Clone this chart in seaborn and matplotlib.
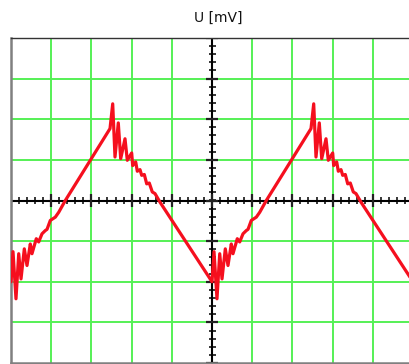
import numpy as np
import matplotlib
matplotlib.use("Agg")
import matplotlib.pyplot as plt
import seaborn as sns

# Waveform vertices (x, y in screen divisions)
t_div = [0.000, 0.050, 0.124, 0.192, 0.249, 0.331, 0.398, 0.480, 0.522, 0.629,
         0.689, 0.771, 0.853, 0.896, 0.978, 1.102, 1.187, 1.351, 2.463, 2.530,
         2.587, 2.669, 2.729, 2.836, 2.893, 3.002, 3.027, 3.102, 3.142, 3.209,
         3.251, 3.316, 3.376, 3.440, 3.515, 3.582, 3.706,
         5.000, 5.050, 5.124, 5.192, 5.249, 5.331, 5.398, 5.480, 5.522, 5.629,
         5.689, 5.771, 5.853, 5.896, 5.978, 6.102, 6.187, 6.351, 7.463, 7.530,
         7.587, 7.669, 7.729, 7.836, 7.893, 8.002, 8.027, 8.102, 8.142, 8.209,
         8.251, 8.316, 8.376, 8.440, 8.515, 8.582, 8.706, 10.000]
u_div = [-2.00, -1.26, -2.42, -1.31, -1.93, -1.19, -1.60, -1.07, -1.31, -0.94,
         -1.02, -0.82, -0.74, -0.71, -0.49, -0.41, -0.29, 0.00, 1.77, 2.38,
         1.07, 1.91, 1.03, 1.52, 0.99, 1.17, 0.86, 0.95, 0.72, 0.76,
         0.62, 0.64, 0.41, 0.43, 0.21, 0.17, -0.04,
         -2.00, -1.26, -2.42, -1.31, -1.93, -1.19, -1.60, -1.07, -1.31, -0.94,
         -1.02, -0.82, -0.74, -0.71, -0.49, -0.41, -0.29, 0.00, 1.77, 2.38,
         1.07, 1.91, 1.03, 1.52, 0.99, 1.17, 0.86, 0.95, 0.72, 0.76,
         0.62, 0.64, 0.41, 0.43, 0.21, 0.17, -0.04, -2.00]
title_text = "U [mV]"

sns.set_style("white")
plt.rcParams['font.family'] = ['DejaVu Sans']

fig = plt.figure(figsize=(4.09, 3.64), dpi=100)
ax = fig.add_axes([11/409, 1/364, 402/409, 325/364])
ax.set_xlim(0, 10)
ax.set_ylim(-4, 4)

grid_col = '#55f055'
for gx in range(1, 10):
    if gx != 5:
        ax.axvline(gx, color=grid_col, lw=1.4, zorder=1)
for gy in range(-3, 4):
    if gy != 0:
        ax.axhline(gy, color=grid_col, lw=1.4, zorder=1)

# centre crosshair with graticule ticks
ax.axvline(5, color='black', lw=1.5, zorder=2)
ax.axhline(0, color='black', lw=1.5, zorder=2)
minor_x = np.arange(0, 10.01, 0.2)
minor_y = np.arange(-4, 4.01, 0.2)
mh = 3.5 / 40.6
mw = 3.5 / 40.2
ax.vlines(minor_x, -mh, mh, color='black', lw=1.1, zorder=2)
ax.hlines(minor_y, 5 - mw, 5 + mw, color='black', lw=1.1, zorder=2)
major_x = np.arange(0, 10.01, 1.0)
major_y = np.arange(-4, 4.01, 1.0)
ax.vlines(major_x, -6/40.6, 6/40.6, color='#222222', lw=1.6, zorder=2)
ax.hlines(major_y, 5 - 6/40.2, 5 + 6/40.2, color='#222222', lw=1.6, zorder=2)

sns.lineplot(x=t_div, y=u_div, ax=ax, color='#f50f1e', lw=2.3, sort=False,
             estimator=None, zorder=3)

ax.set_xticks([])
ax.set_yticks([])
ax.set_xlabel('')
ax.set_ylabel('')
for side in ['left', 'bottom']:
    ax.spines[side].set_color('#808080')
    ax.spines[side].set_linewidth(1.8)
ax.spines['top'].set_color('#333333')
ax.spines['top'].set_linewidth(1.0)
ax.spines['right'].set_color('#333333')

fig.text(218/409, 1 - 18/364, title_text, ha='center', va='center',
         fontsize=10, color='#111111')

fig.savefig('out.png', dpi=100)
